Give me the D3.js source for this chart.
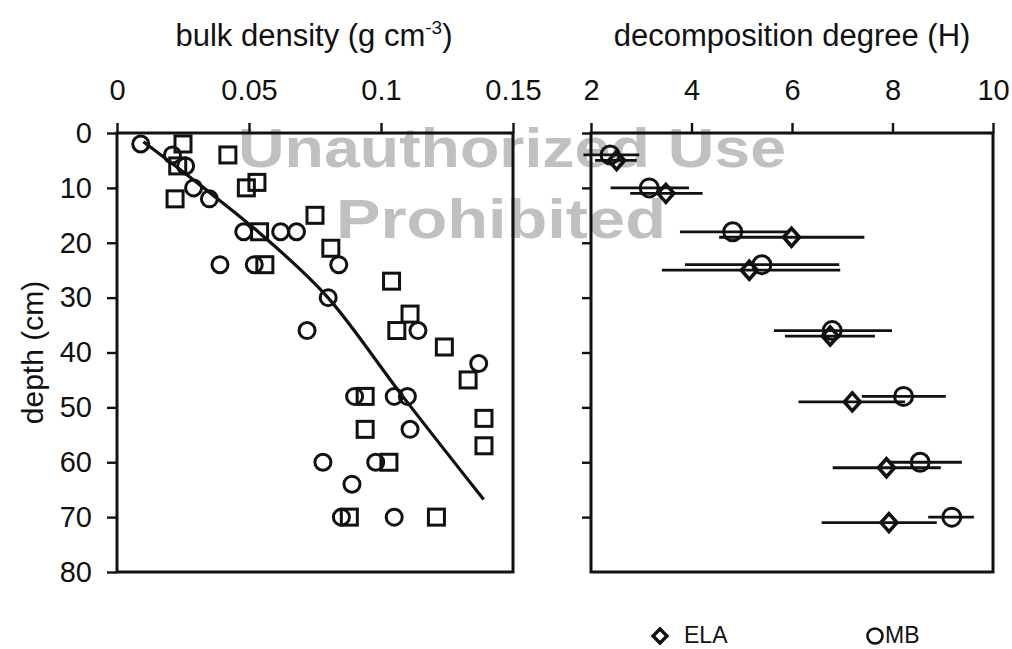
<!DOCTYPE html>
<html>
<head>
<meta charset="utf-8">
<script src="https://cdn.jsdelivr.net/npm/d3@7"></script>
<style>
  body { margin: 0; background: #fff; }
  svg { font-family: "Liberation Sans", Arial, sans-serif; }
</style>
</head>
<body>
<div id="chart"></div>
<script>
// left panel: bulk density vs depth
const circX = [0.009, 0.021, 0.026, 0.029, 0.035, 0.048, 0.062, 0.068, 0.039, 0.052, 0.084, 0.080,
               0.072, 0.114, 0.137, 0.090, 0.105, 0.110, 0.111, 0.078, 0.098, 0.089, 0.085, 0.105];
const circD = [2, 4, 6, 10, 12, 18, 18, 18, 24, 24, 24, 30,
               36, 36, 42, 48, 48, 48, 54, 60, 60, 64, 70, 70];
const squareX = [0.025, 0.042, 0.023, 0.053, 0.049, 0.022, 0.075, 0.054, 0.081, 0.056, 0.104,
                 0.111, 0.106, 0.124, 0.133, 0.094, 0.139, 0.094, 0.139, 0.103, 0.088, 0.121];
const squareD = [2, 4, 6, 9, 10, 12, 15, 18, 21, 24, 27,
                 33, 36, 39, 45, 48, 52, 54, 57, 60, 70, 70];
// fitted curve
const fitX = [0.010, 0.0315, 0.0542, 0.0799, 0.1073, 0.1389];
const fitD = [1.6, 9.5, 18.3, 30, 47.4, 66.8];

// right panel: decomposition degree (H)
const elaD = [5, 11, 19, 25, 37, 49, 61, 71];
const ela = [2.51, 3.49, 5.99, 5.15, 6.76, 7.20, 7.88, 7.93];
const elaLo = [2.08, 2.78, 4.55, 3.41, 5.86, 6.13, 6.81, 6.59];
const elaHi = [2.91, 4.22, 7.44, 6.96, 7.65, 8.25, 8.96, 8.88];
const mbD = [4, 10, 18, 24, 36, 48, 60, 70];
const mb = [2.38, 3.16, 4.82, 5.40, 6.80, 8.22, 8.55, 9.18];
const mbLo = [1.85, 2.39, 3.77, 3.87, 5.64, 7.39, 7.93, 8.71];
const mbHi = [2.96, 3.95, 5.96, 6.94, 7.99, 9.06, 9.38, 9.62];

const densTicks = [0, 0.05, 0.1, 0.15];
const hTicks = [2, 4, 6, 8, 10];
const depthTicks = [0, 10, 20, 30, 40, 50, 60, 70, 80];

const W = 1012, H = 649;
const ink = "#111";

const svg = d3.select("#chart").append("svg")
  .attr("width", W).attr("height", H);

// watermark behind the plot
const wm = svg.append("g").attr("fill", "#c0c0c0").attr("font-weight", "bold")
  .attr("text-anchor", "middle").style("font-size", "55px");
wm.append("text").attr("x", 512).attr("y", 167)
  .attr("textLength", 548).attr("lengthAdjust", "spacingAndGlyphs").text("Unauthorized Use");
wm.append("text").attr("x", 501).attr("y", 238)
  .attr("textLength", 330).attr("lengthAdjust", "spacingAndGlyphs").text("Prohibited");

// scales
const xL = d3.scaleLinear().domain([0, 0.15]).range([117, 513]);
const xR = d3.scaleLinear().domain([2, 10]).range([591, 993]);
const y = d3.scaleLinear().domain([0, 80]).range([133, 572]);

function styleAxis(g) {
  g.select(".domain").remove();
  g.selectAll(".tick line").attr("stroke", ink).attr("stroke-width", 2.4);
  g.selectAll(".tick text").attr("fill", ink).style("font-size", "29px");
}

// top axes
svg.append("g").attr("transform", `translate(0,${y(0)})`)
  .call(d3.axisTop(xL).tickValues(densTicks).tickSize(10).tickPadding(23)
    .tickFormat(d => d === 0 ? "0" : d3.format("")(+d.toFixed(2))))
  .call(styleAxis);
svg.append("g").attr("transform", `translate(0,${y(0)})`)
  .call(d3.axisTop(xR).tickValues(hTicks).tickSize(10).tickPadding(23))
  .call(styleAxis);

// left axes
svg.append("g").attr("transform", `translate(${xL(0)},0)`)
  .call(d3.axisLeft(y).tickValues(depthTicks).tickSize(10).tickPadding(15))
  .call(styleAxis);
svg.append("g").attr("transform", `translate(${xR(2)},0)`)
  .call(d3.axisLeft(y).tickValues(depthTicks.slice(0, 8)).tickSize(9).tickFormat(""))
  .call(styleAxis);

// frames
[[xL, 0, 0.15], [xR, 2, 10]].forEach(([sx, a, b]) => {
  svg.append("rect")
    .attr("x", sx(a)).attr("y", y(0))
    .attr("width", sx(b) - sx(a)).attr("height", y(80) - y(0))
    .attr("fill", "none").attr("stroke", ink).attr("stroke-width", 3);
});

// titles
svg.append("text").attr("x", 314).attr("y", 46).attr("text-anchor", "middle")
  .attr("fill", ink).style("font-size", "31px")
  .call(t => {
    t.append("tspan").text("bulk density (g cm");
    t.append("tspan").attr("dy", -12).style("font-size", "19px").text("-3");
    t.append("tspan").attr("dy", 12).text(")");
  });
svg.append("text").attr("x", 792).attr("y", 46).attr("text-anchor", "middle")
  .attr("fill", ink).style("font-size", "31px").text("decomposition degree (H)");
svg.append("text").attr("transform", `translate(43,${(y(0) + y(80)) / 2}) rotate(-90)`)
  .attr("text-anchor", "middle").attr("fill", ink).style("font-size", "30px").text("depth (cm)");

// left panel marks
const fitData = fitX.map((v, i) => ({ x: v, d: fitD[i] }));
svg.append("path").datum(fitData)
  .attr("fill", "none").attr("stroke", ink).attr("stroke-width", 3.2)
  .attr("d", d3.line().x(d => xL(d.x)).y(d => y(d.d)).curve(d3.curveMonotoneX));

svg.append("g").selectAll("rect")
  .data(squareX.map((v, i) => ({ x: v, d: squareD[i] })))
  .join("rect")
  .attr("x", d => xL(d.x) - 8).attr("y", d => y(d.d) - 8)
  .attr("width", 16).attr("height", 16)
  .attr("fill", "none").attr("stroke", ink).attr("stroke-width", 3);

svg.append("g").selectAll("circle")
  .data(circX.map((v, i) => ({ x: v, d: circD[i] })))
  .join("circle")
  .attr("cx", d => xL(d.x)).attr("cy", d => y(d.d)).attr("r", 8)
  .attr("fill", "none").attr("stroke", ink).attr("stroke-width", 3);

// right panel marks
const elaData = ela.map((v, i) => ({ v, lo: elaLo[i], hi: elaHi[i], d: elaD[i] }));
const mbData = mb.map((v, i) => ({ v, lo: mbLo[i], hi: mbHi[i], d: mbD[i] }));

[elaData, mbData].forEach(data => {
  svg.append("g").selectAll("line")
    .data(data).join("line")
    .attr("x1", d => xR(d.lo)).attr("x2", d => xR(d.hi))
    .attr("y1", d => y(d.d)).attr("y2", d => y(d.d))
    .attr("stroke", ink).attr("stroke-width", 2.8);
});

const diamond = "M0,-9L8,0L0,9L-8,0Z";
svg.append("g").selectAll("path")
  .data(elaData).join("path")
  .attr("transform", d => `translate(${xR(d.v)},${y(d.d)})`)
  .attr("d", diamond)
  .attr("fill", "none").attr("stroke", ink).attr("stroke-width", 3.6);

svg.append("g").selectAll("circle")
  .data(mbData).join("circle")
  .attr("cx", d => xR(d.v)).attr("cy", d => y(d.d)).attr("r", 9)
  .attr("fill", "none").attr("stroke", ink).attr("stroke-width", 3);

// legend
const lg = svg.append("g").attr("fill", ink).style("font-size", "23px");
lg.append("path").attr("transform", "translate(660,636)").attr("d", "M0,-7L7,0L0,7L-7,0Z")
  .attr("fill", "none").attr("stroke", ink).attr("stroke-width", 3.4);
lg.append("text").attr("x", 684).attr("y", 643).text("ELA");
lg.append("circle").attr("cx", 875).attr("cy", 636).attr("r", 7.5)
  .attr("fill", "none").attr("stroke", ink).attr("stroke-width", 2.6);
lg.append("text").attr("x", 885).attr("y", 643).text("MB");
</script>
</body>
</html>
